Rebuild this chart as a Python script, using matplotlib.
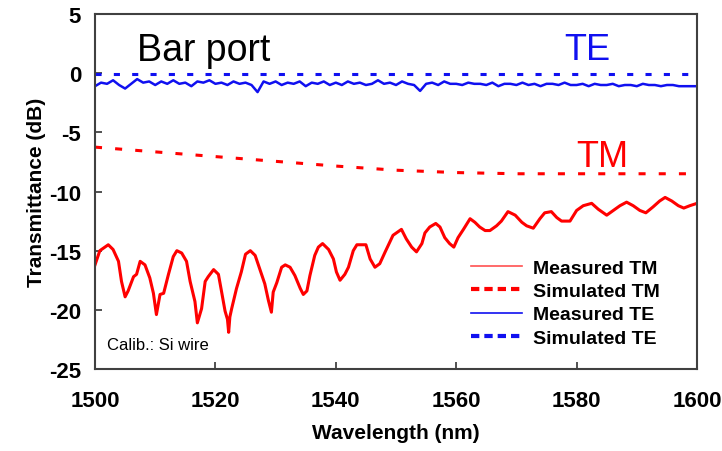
"""Bar port transmittance: measured vs simulated TM / TE."""
import matplotlib
matplotlib.use('Agg')
import matplotlib.pyplot as plt
from matplotlib.lines import Line2D

plt.rcParams['font.family'] = ['Liberation Sans', 'DejaVu Sans']
plt.rcParams['axes.unicode_minus'] = False

# Measured TM (wavelength nm, transmittance dB)
tm_meas_wl = [
    1500.0, 1500.8, 1502.2, 1503.0, 1503.9, 1504.4, 1505.0, 1505.5, 1506.4, 1506.9,
    1507.5, 1508.3, 1509.1, 1509.7, 1510.2, 1510.8, 1511.4, 1512.2, 1513.0, 1513.6,
    1514.4, 1515.2, 1515.8, 1516.6, 1517.0, 1517.7, 1518.3, 1518.8, 1519.7, 1520.5,
    1521.0, 1521.6, 1522.0, 1522.2, 1522.4, 1522.7, 1523.5, 1524.3, 1525.0, 1525.8,
    1526.6, 1527.4, 1528.2, 1528.8, 1529.3, 1529.6, 1530.2, 1531.0, 1531.6, 1532.4,
    1533.2, 1534.1, 1534.6, 1535.2, 1535.7, 1536.5, 1537.1, 1537.8, 1538.8, 1539.6,
    1540.1, 1540.7, 1541.5, 1542.1, 1542.9, 1543.5, 1545.0, 1545.7, 1546.5, 1547.3,
    1548.2, 1549.5, 1550.9, 1551.7, 1552.6, 1553.4, 1554.3, 1554.8, 1555.6, 1556.6,
    1557.3, 1558.1, 1558.9, 1559.6, 1560.3, 1561.2, 1562.3, 1563.1, 1563.9, 1564.8,
    1565.6, 1566.7, 1567.5, 1568.6, 1569.8, 1570.9, 1571.7, 1572.8, 1573.9, 1574.7,
    1575.8, 1576.7, 1577.5, 1578.9, 1580.0, 1581.1, 1582.5, 1583.6, 1585.0, 1586.1,
    1587.2, 1588.3, 1589.4, 1590.5, 1591.5, 1592.7, 1593.8, 1594.7, 1595.8, 1596.9,
    1597.8, 1598.8, 1600.0,
]
tm_meas_db = [
    -16.2, -15.0, -14.5, -14.9, -15.9, -17.6, -18.9, -18.4, -17.2, -17.0,
    -15.9, -16.2, -17.3, -18.6, -20.4, -18.7, -18.6, -17.0, -15.5, -15.0,
    -15.2, -15.9, -17.6, -19.3, -21.1, -19.9, -17.6, -17.2, -16.6, -17.0,
    -18.4, -20.1, -20.8, -21.9, -20.6, -19.9, -18.2, -16.8, -15.3, -15.0,
    -15.4, -16.6, -17.8, -19.2, -20.2, -18.5, -17.7, -16.4, -16.2, -16.4,
    -17.1, -18.2, -18.7, -18.4, -17.1, -15.4, -14.7, -14.4, -14.9, -15.7,
    -16.8, -17.5, -17.0, -16.4, -15.0, -14.5, -14.5, -15.7, -16.4, -16.1,
    -15.1, -13.7, -13.2, -14.0, -14.7, -15.1, -14.4, -13.5, -13.0, -12.7,
    -13.0, -13.9, -14.4, -14.7, -13.9, -13.2, -12.3, -12.6, -13.0, -13.3,
    -13.3, -12.9, -12.5, -11.7, -12.0, -12.6, -12.9, -13.1, -12.3, -11.8,
    -11.7, -12.2, -12.5, -12.5, -11.6, -11.2, -11.0, -11.5, -12.0, -11.6,
    -11.2, -10.9, -11.2, -11.6, -11.8, -11.3, -10.8, -10.5, -10.8, -11.2,
    -11.4, -11.2, -11.0,
]

# Simulated TM
tm_sim_wl = [1500, 1510, 1520, 1530, 1540, 1550, 1560, 1570, 1580, 1590, 1600]
tm_sim_db = [-6.25, -6.65, -7.05, -7.45, -7.85, -8.2, -8.4, -8.5, -8.5, -8.5, -8.5]

# Measured TE, 1 nm steps from 1500 to 1600
te_meas_wl = list(range(1500, 1601))
te_meas_db = [
    -1.1, -0.8, -0.9, -0.6, -1.0, -1.3, -0.9, -0.5, -0.8, -0.7,
    -1.0, -0.7, -0.9, -0.6, -0.9, -0.8, -1.1, -0.7, -0.8, -0.6,
    -0.9, -0.8, -1.0, -0.7, -0.9, -0.8, -1.0, -1.6, -0.7, -0.9,
    -0.7, -1.0, -0.8, -0.9, -0.7, -1.1, -0.8, -0.9, -0.7, -1.0,
    -0.8, -1.0, -0.7, -0.9, -0.8, -1.0, -0.9, -0.6, -0.9, -0.8,
    -1.0, -0.7, -0.9, -1.0, -1.5, -0.9, -0.8, -1.0, -0.7, -0.9,
    -0.9, -1.0, -0.8, -0.9, -0.9, -1.0, -0.8, -1.1, -0.9, -0.9,
    -1.0, -0.8, -1.0, -0.9, -1.1, -0.9, -0.9, -1.0, -0.8, -1.0,
    -1.0, -0.9, -1.1, -0.9, -1.0, -1.0, -0.9, -1.1, -1.0, -1.0,
    -1.1, -0.9, -1.0, -1.0, -1.1, -1.0, -1.0, -1.1, -1.1, -1.1, -1.1,
]

# Simulated TE
te_sim_wl = [1500, 1600]
te_sim_db = [-0.05, -0.05]

RED = '#ff0000'
BLUE = '#1010f0'

fig = plt.figure(figsize=(7.22, 4.52), dpi=100)
ax = fig.add_axes([0.1316, 0.1814, 0.8338, 0.7854])

ax.plot(tm_sim_wl, tm_sim_db, color=RED, lw=2.2, dashes=(2.3, 4.3))
ax.plot(tm_meas_wl, tm_meas_db, color=RED, lw=2.2)
ax.plot(te_sim_wl, te_sim_db, color=BLUE, lw=2.2, dashes=(2.0, 4.0))
ax.plot(te_meas_wl, te_meas_db, color=BLUE, lw=1.8)

ax.set_xlim(1500, 1600)
ax.set_ylim(-25, 5)
ax.set_xticks(range(1500, 1601, 20))
ax.set_yticks(range(-25, 6, 5))
ax.tick_params(axis='both', direction='in', length=5, width=1.2, labelsize=16,
               colors='#333333', labelcolor='black')
ax.tick_params(axis='x', pad=15)
ax.tick_params(axis='y', pad=10)
for lab in ax.get_xticklabels() + ax.get_yticklabels():
    lab.set_fontweight('bold')
for sp in ax.spines.values():
    sp.set_color('#404040')
    sp.set_linewidth(1.5)

ax.set_xlabel('Wavelength (nm)', fontsize=15, fontweight='bold', labelpad=9)
ax.set_ylabel('Transmittance (dB)', fontsize=15, fontweight='bold', labelpad=2)

ax.text(0.07, 0.9, 'Bar port', transform=ax.transAxes, fontsize=27, va='center')
ax.text(0.78, 0.9, 'TE', transform=ax.transAxes, fontsize=26, va='center', color=BLUE)
ax.text(0.80, 0.6, 'TM', transform=ax.transAxes, fontsize=26, va='center', color=RED)
ax.text(0.02, 0.07, 'Calib.: Si wire', transform=ax.transAxes, fontsize=12, va='center')

handles = [
    Line2D([], [], color='#ff5050', lw=1.2),
    Line2D([], [], color=RED, lw=3, dashes=(2, 1.2)),
    Line2D([], [], color=BLUE, lw=1.2),
    Line2D([], [], color=BLUE, lw=3, dashes=(2, 1.2)),
]
labels = ['Measured TM', 'Simulated TM', 'Measured TE', 'Simulated TE']
leg = ax.legend(handles, labels, loc='upper left', bbox_to_anchor=(0.625, 0.31),
                frameon=False, handlelength=2.6, handletextpad=0.6, labelspacing=0.3,
                borderaxespad=0, borderpad=0,
                prop={'size': 14, 'weight': 'bold'})

fig.savefig('out.png', dpi=100)
